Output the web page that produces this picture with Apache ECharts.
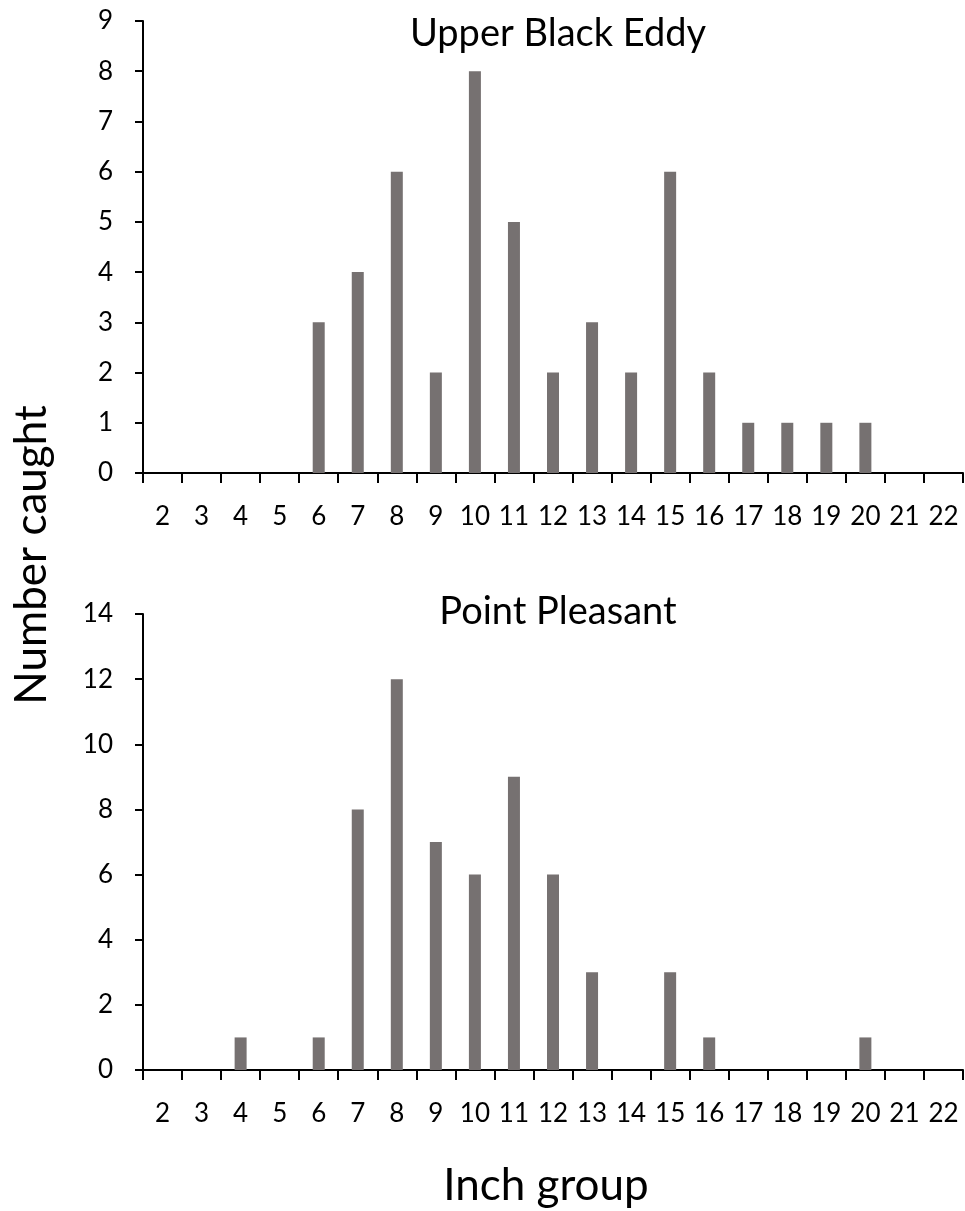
<!DOCTYPE html>
<html>
<head>
<meta charset="utf-8">
<script src="https://cdn.jsdelivr.net/npm/echarts@6/dist/echarts.min.js"></script>
<style>
html,body{margin:0;padding:0;background:#fff;}
#chart{width:965px;height:1211px;}
</style>
</head>
<body>
<div id="chart"></div>
<script>
const categories = ['2','3','4','5','6','7','8','9','10','11','12','13','14','15','16','17','18','19','20','21','22'];
const upperBlackEddy = [0,0,0,0,3,4,6,2,8,5,2,3,2,6,2,1,1,1,1,0,0];
const pointPleasant = [0,0,1,0,1,8,12,7,6,9,6,3,0,3,1,0,0,0,1,0,0];
const titleTop = 'Upper Black Eddy';
const titleBottom = 'Point Pleasant';
const yTitle = 'Number caught';
const xTitle = 'Inch group';

const FONT = 'Lato, "Open Sans", sans-serif';
const BAR = '#767171';
const chart = echarts.init(document.getElementById('chart'), null, {renderer:'canvas'});

function xAxis(gi){
  return {
    type:'category', gridIndex:gi, data:categories, boundaryGap:true,
    axisLine:{lineStyle:{color:'#000',width:2}},
    axisTick:{show:true,alignWithLabel:false,length:10,lineStyle:{color:'#000',width:2}},
    axisLabel:{color:'#000',fontSize:26,fontFamily:FONT,margin:31,interval:0}
  };
}
function yAxis(gi,max,interval){
  return {
    type:'value', gridIndex:gi, min:0, max:max, interval:interval,
    splitLine:{show:false},
    axisLine:{show:true,lineStyle:{color:'#000',width:2}},
    axisTick:{show:true,length:8,lineStyle:{color:'#000',width:2}},
    axisLabel:{color:'#000',fontSize:26,fontFamily:FONT,margin:30}
  };
}

chart.setOption({
  animation:false,
  backgroundColor:'#fff',
  title:[
    {text:titleTop,left:553,top:10,textAlign:'center',textStyle:{fontSize:38,fontWeight:'normal',color:'#000',fontFamily:FONT}},
    {text:titleBottom,left:553,top:588,textAlign:'center',textStyle:{fontSize:38,fontWeight:'normal',color:'#000',fontFamily:FONT}}
  ],
  graphic:[
    {type:'text',x:32,y:555,rotation:Math.PI/2,
     style:{text:yTitle,fontSize:44,fontFamily:FONT,fill:'#000',align:'center',verticalAlign:'middle'}},
    {type:'text',x:546,y:1186,
     style:{text:xTitle,fontSize:44,fontFamily:FONT,fill:'#000',align:'center',verticalAlign:'middle'}}
  ],
  grid:[
    {left:143,right:2,top:21,height:452},
    {left:143,right:2,top:614,height:456}
  ],
  xAxis:[xAxis(0),xAxis(1)],
  yAxis:[yAxis(0,9,1),yAxis(1,14,2)],
  series:[
    {type:'bar',xAxisIndex:0,yAxisIndex:0,data:upperBlackEddy,barWidth:12,itemStyle:{color:BAR}},
    {type:'bar',xAxisIndex:1,yAxisIndex:1,data:pointPleasant,barWidth:12,itemStyle:{color:BAR}}
  ]
});
</script>
</body>
</html>
